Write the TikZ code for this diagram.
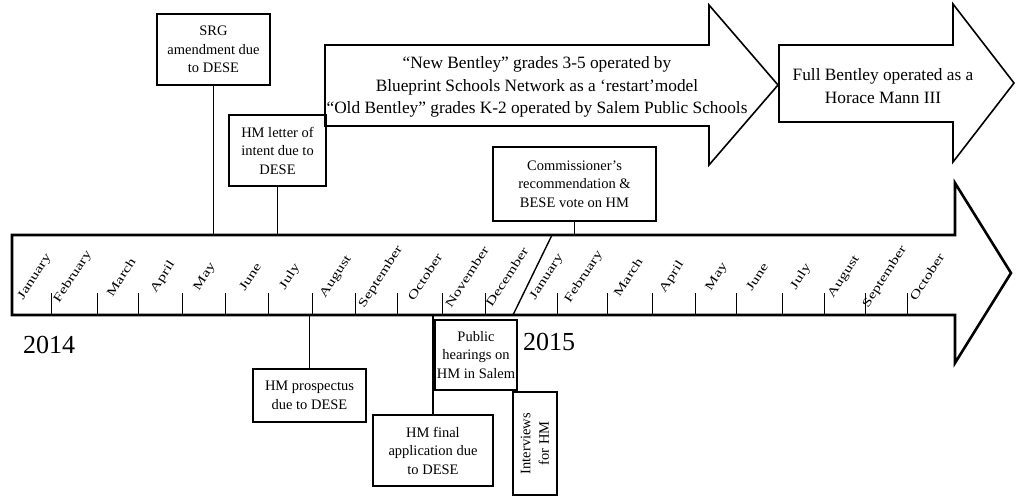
\documentclass[tikz,border=0pt]{standalone}
\usepackage{fontspec}
\setmainfont{Liberation Serif}
\begin{document}
\begin{tikzpicture}[x=1pt,y=-1pt,
  bigarrow/.style={draw=black,line width=1.6pt,line join=miter},
  timeline/.style={draw=black,line width=2.6pt,line join=miter},
  evbox/.style={draw=black,line width=1.3pt,inner sep=0pt,align=center,
    font=\fontsize{14.5}{18.5}\selectfont},
  conn/.style={draw=black,line width=1.8pt},
  tick/.style={draw=black,line width=0.9pt},
  arrowtext/.style={align=center,inner sep=0pt,font=\fontsize{17.3}{22.5}\selectfont},
  yeartext/.style={inner sep=0pt,font=\fontsize{26}{30}\selectfont},
  monthtext/.style={inner sep=0pt,rotate=57,font=\fontsize{12}{14}\selectfont}
]
\useasboundingbox (0,0) rectangle (1016,499);
\fill[white] (0,0) rectangle (1016,499);

% upper arrows
\draw[bigarrow] (325,45) -- (709,45) -- (709,5) -- (778,85) -- (709,165) -- (709,126) -- (325,126) -- cycle;
\node[arrowtext] (phase1) at (537,87) {``New Bentley'' grades 3-5 operated by\\Blueprint Schools Network as a `restart'model\\``Old Bentley'' grades K-2 operated by Salem Public Schools};
\draw[bigarrow] (779,45) -- (953,45) -- (953,4) -- (1014,83) -- (953,162) -- (953,122) -- (779,122) -- cycle;
\node[arrowtext] (phase2) at (883,86) {Full Bentley operated as a\\Horace Mann III};

% timeline
\draw[timeline] (12,235) -- (955,235) -- (955,183) -- (1011,273) -- (955,363) -- (955,315) -- (12,315) -- cycle;
\coordinate (tltop) at (0,235);
\coordinate (tlbot) at (0,315);
\coordinate (yrA) at (513,315);
\coordinate (yrB) at (552,235);
\draw[line width=1.4pt] (yrA) -- (yrB);

\foreach \x in {51,97,138,182,225,268,312,355,397,442,485,557,607,652,695,736,782,824,865,907}
  \draw[tick] (\x,315) -- (\x,293);

\foreach \x/\m in {35/January,73/February,121/March,163/April,205/May,250/June,290/July,336/August,381/September,425/October,467/November,507/December,
  547/January,584/February,628/March,672/April,717/May,757/June,801/July,844/August,885/September,927/October}
  \node[monthtext] at (\x,277) {\scalebox{1.38}[1]{\m}};

\node[yeartext] (y2014) at (49,345) {2014};
\node[yeartext] (y2015) at (549,342) {2015};

% event boxes
\node[evbox,minimum width=113pt,minimum height=71pt] (srg) at (213.5,49.5) {SRG\\amendment due\\to DESE};
\node[evbox,minimum width=97pt,minimum height=71pt] (loi) at (277.5,150.5) {HM letter of\\intent due to\\DESE};
\node[evbox,minimum width=163pt,minimum height=74pt] (comm) at (574.5,184) {Commissioner's\\recommendation \&\\BESE vote on HM};
\node[evbox,minimum width=113pt,minimum height=53pt] (pros) at (309.5,395.5) {HM prospectus\\due to DESE};
\node[evbox,minimum width=82pt,minimum height=70pt] (pub) at (476,355) {Public\\hearings on\\HM in Salem};
\node[evbox,minimum width=120pt,minimum height=71pt] (final) at (433,450.5) {HM final\\application due\\to DESE};
\node[evbox,minimum width=44pt,minimum height=103pt] (intv) at (535,443.5) {};
\node[inner sep=0pt,align=center,rotate=90,font=\fontsize{14.5}{18.5}\selectfont] (intvtext) at (intv.center) {Interviews\\for HM};

% connectors
\draw[conn] (srg.south) -- (srg.south |- tltop);
\draw[conn] (loi.south) -- (loi.south |- tltop);
\draw[conn] (comm.south) -- (comm.south |- tltop);
\draw[conn] (pros.north) -- (pros.north |- tlbot);
\draw[conn] (final.north) -- (final.north |- tlbot);
\end{tikzpicture}
\end{document}
